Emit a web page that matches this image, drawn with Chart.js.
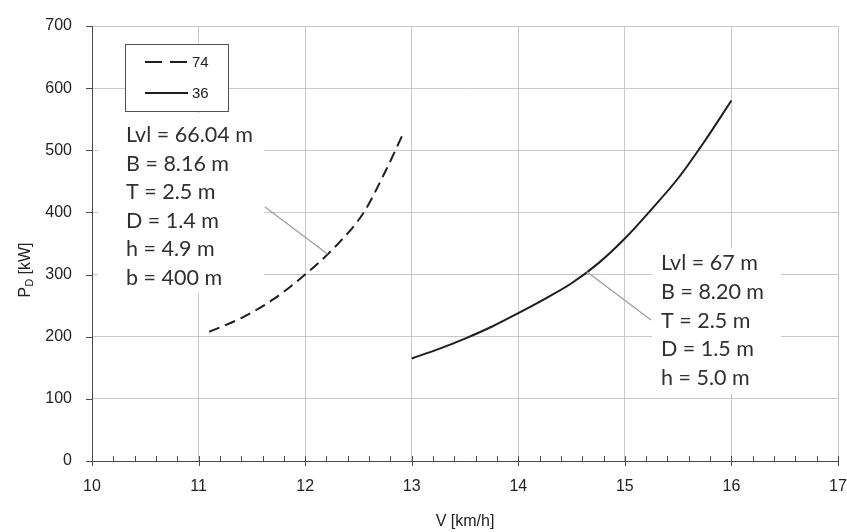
<!DOCTYPE html>
<html>
<head>
<meta charset="utf-8">
<script src="https://cdn.jsdelivr.net/npm/chart.js@4/dist/chart.umd.min.js"></script>
<style>
  html, body { margin: 0; padding: 0; background: #fff; }
  #wrap { width: 847px; height: 532px; position: relative; }
</style>
</head>
<body>
<div id="wrap"><canvas id="c" width="847" height="532"></canvas></div>
<script>
// Delivered power P_D against speed V for two vessels
const seriesNames = ['74', '36'];
const speed74 = [11.1, 11.4, 11.7, 12.0, 12.3, 12.55, 12.75, 12.92];
const power74 = [208, 230, 260, 300, 348, 400, 465, 527];
const speed36 = [13.0, 13.25, 13.5, 13.75, 14.0, 14.25, 14.5, 14.75, 15.0, 15.25, 15.5, 15.75, 16.0];
const power36 = [165, 180, 197, 216, 238, 261, 286, 318, 358, 405, 455, 515, 580];
const vTicks = [10, 11, 12, 13, 14, 15, 16, 17];
const pTicks = [0, 100, 200, 300, 400, 500, 600, 700];
const notes74 = ['Lvl = 66.04 m', 'B = 8.16 m', 'T = 2.5 m', 'D = 1.4 m', 'h = 4.9 m', 'b = 400 m'];
const notes36 = ['Lvl = 67 m', 'B = 8.20 m', 'T = 2.5 m', 'D = 1.5 m', 'h = 5.0 m'];
// curve points the call-out leaders point at (V, P)
const leader74 = [12.21, 333];
const leader36 = [14.64, 305];

const AXIS_FONT = '"Liberation Sans", Arial, sans-serif';
const NOTE_FONT = 'Lato, "Open Sans", sans-serif';
const INK = '#222';

function toPoints(xs, ys) { return xs.map((x, i) => ({ x: x, y: ys[i] })); }

const decor = {
  id: 'decor',
  beforeDatasetsDraw(chart) {
    const ctx = chart.ctx;
    ctx.save();
    ctx.fillStyle = '#ffffff';
    // backgrounds behind the parameter notes
    ctx.fillRect(98, 113, 166, 179);
    ctx.fillRect(652, 248, 129, 146);
    ctx.restore();
  },
  afterDatasetsDraw(chart) {
    const ctx = chart.ctx;
    const xs = chart.scales.x, ys = chart.scales.y;
    const area = chart.chartArea;
    ctx.save();

    // x-axis ticks: major crossing the axis, minor every 0.2 inside
    ctx.strokeStyle = '#4a4a4a';
    ctx.lineWidth = 1;
    for (let v = 10; v <= 17.0001; v += 0.2) {
      const px = Math.round(xs.getPixelForValue(v)) + 0.5;
      const major = Math.abs(v - Math.round(v)) < 1e-6;
      ctx.beginPath();
      ctx.moveTo(px, area.bottom - 5);
      ctx.lineTo(px, area.bottom + (major ? 5 : 0));
      ctx.stroke();
    }
    // y-axis ticks outside
    pTicks.forEach(p => {
      const py = Math.round(ys.getPixelForValue(p)) + 0.5;
      ctx.beginPath();
      ctx.moveTo(area.left - 6, py);
      ctx.lineTo(area.left, py);
      ctx.stroke();
    });

    // legend
    ctx.fillStyle = '#fff';
    ctx.fillRect(125, 44, 103, 67);
    ctx.strokeStyle = '#505050';
    ctx.strokeRect(125.5, 44.5, 103, 67);
    const rows = [62, 93];
    chart.data.datasets.forEach((ds, i) => {
      ctx.strokeStyle = ds.borderColor;
      ctx.lineWidth = ds.borderWidth;
      ctx.setLineDash(ds.borderDash ? [17, 8] : []);
      ctx.beginPath();
      ctx.moveTo(145, rows[i]);
      ctx.lineTo(188, rows[i]);
      ctx.stroke();
      ctx.setLineDash([]);
      ctx.fillStyle = INK;
      ctx.font = '15px ' + AXIS_FONT;
      ctx.textBaseline = 'middle';
      ctx.textAlign = 'left';
      ctx.fillText(ds.label, 192, rows[i] + 1);
    });

    // leader lines from notes to curves
    ctx.strokeStyle = '#a89a9a';
    ctx.lineWidth = 1.3;
    ctx.beginPath();
    ctx.moveTo(265, 207);
    ctx.lineTo(xs.getPixelForValue(leader74[0]), ys.getPixelForValue(leader74[1]));
    ctx.moveTo(651, 320);
    ctx.lineTo(xs.getPixelForValue(leader36[0]), ys.getPixelForValue(leader36[1]));
    ctx.stroke();

    // parameter notes
    ctx.fillStyle = '#303030';
    ctx.font = '21.5px ' + NOTE_FONT;
    ctx.textAlign = 'left';
    ctx.textBaseline = 'middle';
    notes74.forEach((t, i) => ctx.fillText(t, 126, 135 + i * 28.6));
    notes36.forEach((t, i) => ctx.fillText(t, 661, 263 + i * 28.8));

    // y-axis title with subscript
    ctx.save();
    ctx.translate(26, 270);
    ctx.rotate(-Math.PI / 2);
    ctx.fillStyle = INK;
    ctx.textBaseline = 'middle';
    ctx.font = '16px ' + AXIS_FONT;
    const w1 = ctx.measureText('P').width;
    ctx.font = '11px ' + AXIS_FONT;
    const w2 = ctx.measureText('D').width;
    ctx.font = '16px ' + AXIS_FONT;
    const w3 = ctx.measureText(' [kW]').width;
    const x0 = -(w1 + w2 + w3) / 2;
    ctx.textAlign = 'left';
    ctx.fillText('P', x0, 0);
    ctx.font = '11px ' + AXIS_FONT;
    ctx.fillText('D', x0 + w1, 4);
    ctx.font = '16px ' + AXIS_FONT;
    ctx.fillText(' [kW]', x0 + w1 + w2, 0);
    ctx.restore();

    ctx.restore();
  }
};

new Chart(document.getElementById('c'), {
  type: 'line',
  data: {
    datasets: [
      {
        label: seriesNames[0],
        data: toPoints(speed74, power74),
        borderColor: '#1e1e1e',
        borderWidth: 2,
        borderDash: [11, 6],
        pointRadius: 0,
        fill: false,
        cubicInterpolationMode: 'monotone'
      },
      {
        label: seriesNames[1],
        data: toPoints(speed36, power36),
        borderColor: '#1e1e1e',
        borderWidth: 2,
        pointRadius: 0,
        fill: false,
        cubicInterpolationMode: 'monotone'
      }
    ]
  },
  options: {
    responsive: false,
    animation: false,
    layout: { padding: { left: 0, right: 9, top: 26, bottom: 0 } },
    plugins: { legend: { display: false }, tooltip: { enabled: false } },
    scales: {
      x: {
        type: 'linear',
        min: 10, max: 17,
        afterBuildTicks: s => { s.ticks = vTicks.map(v => ({ value: v })); },
        afterFit: s => { s.height = 71; s.paddingLeft = 0; s.paddingRight = 0; },
        grid: { color: '#c8c8c8', drawTicks: false },
        border: { color: '#4a4a4a', width: 1 },
        ticks: { padding: 16, color: INK, font: { family: AXIS_FONT, size: 16 } },
        title: { display: true, text: 'V [km/h]', color: INK, font: { family: AXIS_FONT, size: 16 }, padding: { top: 0, bottom: 1 } }
      },
      y: {
        min: 0, max: 700,
        afterBuildTicks: s => { s.ticks = pTicks.map(v => ({ value: v })); },
        afterFit: s => { s.width = 92; s.paddingTop = 0; s.paddingBottom = 0; },
        grid: { color: '#c8c8c8', drawTicks: false },
        border: { color: '#4a4a4a', width: 1 },
        ticks: { padding: 20, color: INK, font: { family: AXIS_FONT, size: 16 } }
      }
    }
  },
  plugins: [decor]
});
</script>
</body>
</html>
